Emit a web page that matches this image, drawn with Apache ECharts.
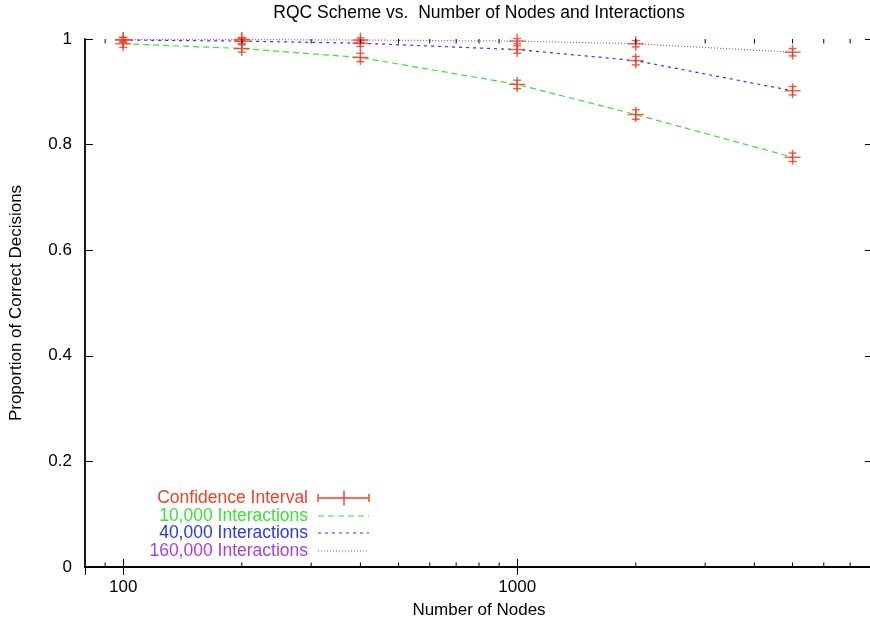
<!DOCTYPE html>
<html><head><meta charset="utf-8">
<script src="https://cdn.jsdelivr.net/npm/echarts@6/dist/echarts.min.js"></script>
<style>html,body{margin:0;padding:0;background:#fff}#c{width:870px;height:625px}</style>
</head><body><div id="c"></div>
<script>
// ---- data ----
const nodes = [100, 200, 400, 1000, 2000, 5000];
const acc10k = [0.991, 0.982, 0.965, 0.914, 0.857, 0.776];
const acc40k = [0.998, 0.996, 0.992, 0.980, 0.959, 0.902];
const acc160k = [0.999, 0.999, 0.998, 0.996, 0.991, 0.975];
const ci10k = [0.007, 0.007, 0.008, 0.008, 0.009, 0.008];
const ci40k = [0.005, 0.005, 0.006, 0.007, 0.008, 0.008];
const ci160k = [0.004, 0.004, 0.004, 0.005, 0.006, 0.007];
const seriesNames = ['10,000 Interactions', '40,000 Interactions', '160,000 Interactions'];
const ciName = 'Confidence Interval';
const minorTickNodes = [90, 200, 300, 400, 500, 600, 700, 800, 900, 2000, 3000, 4000, 5000, 6000, 7000];

const FONT = "'Liberation Sans', Arial, Helvetica, sans-serif";
const RED = '#f0402a', GREEN = '#3fe03a', BLUE = '#2a36f0', PURPLE = '#a63ee8';

const accs = [acc10k, acc40k, acc160k];
const cis = [ci10k, ci40k, ci160k];
const colors = [GREEN, BLUE, PURPLE];
const dashes = [[6, 4], [3, 4], [1, 2]];

const ciData = [];
accs.forEach((a, k) => a.forEach((v, i) => {
  ciData.push([nodes[i], v, v - cis[k][i], v + cis[k][i]]);
}));

const chart = echarts.init(document.getElementById('c'), null, {renderer: 'canvas'});

function errRender(params, api) {
  const x = api.value(0), y = api.value(1), lo = api.value(2), hi = api.value(3);
  const c = api.coord([x, y]);
  const pl = api.coord([x, lo]);
  const ph = api.coord([x, hi]);
  const st = {stroke: RED, lineWidth: 1.4, opacity: 0.85};
  const L = (x1, y1, x2, y2) => ({type: 'line', shape: {x1, y1, x2, y2}, style: st});
  return {type: 'group', children: [
    L(c[0], ph[1], c[0], pl[1]),
    L(c[0] - 4, ph[1], c[0] + 4, ph[1]),
    L(c[0] - 4, pl[1], c[0] + 4, pl[1]),
    L(c[0] - 8, c[1], c[0] + 8, c[1]),
    L(c[0], c[1] - 7.5, c[0], c[1] + 7.5)
  ]};
}

function minorRender(params, api) {
  const b = api.coord([api.value(0), 0]);
  const t = api.coord([api.value(0), 1]);
  const st = {stroke: '#000', lineWidth: 1};
  return {type: 'group', children: [
    {type: 'line', shape: {x1: b[0], y1: b[1], x2: b[0], y2: b[1] - 4.5}, style: st},
    {type: 'line', shape: {x1: t[0], y1: t[1], x2: t[0], y2: t[1] + 4.5}, style: st}
  ]};
}

const axisLine = {show: true, lineStyle: {color: '#000', width: 1.8}};
const tick = {show: true, inside: true, length: 8, lineStyle: {color: '#000', width: 1}};
const labelStyle = {color: '#000', fontSize: 17, fontFamily: FONT};

const legendRows = [
  {name: ciName, color: RED, y: 498},
  {name: seriesNames[0], color: GREEN, y: 516},
  {name: seriesNames[1], color: BLUE, y: 533},
  {name: seriesNames[2], color: PURPLE, y: 551}
];
const graphics = [
  {type: 'text', x: 479, y: 13, style: {text: 'RQC Scheme vs.  Number of Nodes and Interactions', font: '17.5px ' + FONT, fill: '#000', textAlign: 'center', textVerticalAlign: 'middle'}}
];
legendRows.forEach((r, i) => {
  graphics.push({type: 'text', x: 308, y: r.y, style: {text: r.name, font: '17.5px ' + FONT, fill: r.color, textAlign: 'right', textVerticalAlign: 'middle'}});
  if (i === 0) {
    const st = {stroke: RED, lineWidth: 1.4};
    graphics.push({type: 'line', shape: {x1: 318, y1: r.y, x2: 369, y2: r.y}, style: st});
    graphics.push({type: 'line', shape: {x1: 318, y1: r.y - 4, x2: 318, y2: r.y + 4}, style: st});
    graphics.push({type: 'line', shape: {x1: 369, y1: r.y - 4, x2: 369, y2: r.y + 4}, style: st});
    graphics.push({type: 'line', shape: {x1: 344, y1: r.y - 7.5, x2: 344, y2: r.y + 7.5}, style: st});
  } else {
    graphics.push({type: 'line', shape: {x1: 318, y1: r.y, x2: 369, y2: r.y}, style: {stroke: r.color, lineWidth: 1.2, lineDash: dashes[i - 1]}});
  }
});

const option = {
  backgroundColor: '#fff',
  animation: false,
  grid: {left: 85, top: 39, right: -3, bottom: 58, containLabel: false, outerBoundsMode: 'none'},
  xAxis: [
    {type: 'log', logBase: 10, min: 80, max: 8000, position: 'bottom',
     name: 'Number of Nodes', nameLocation: 'middle', nameGap: 35,
     nameTextStyle: {color: '#000', fontSize: 17, fontFamily: FONT},
     axisLine, axisTick: tick, splitLine: {show: false}, minorTick: {show: false},
     axisLabel: Object.assign({margin: 12, showMinLabel: false, showMaxLabel: false,
       formatter: v => String(Math.round(v))}, labelStyle)},
    {type: 'log', logBase: 10, min: 80, max: 8000, position: 'top',
     axisLine, axisTick: tick, splitLine: {show: false}, axisLabel: {show: false}}
  ],
  yAxis: [
    {type: 'value', min: 0, max: 1, interval: 0.2, position: 'left',
     name: 'Proportion of Correct Decisions', nameLocation: 'middle', nameGap: 60,
     nameTextStyle: {color: '#000', fontSize: 17, fontFamily: FONT},
     axisLine, axisTick: tick, splitLine: {show: false},
     axisLabel: Object.assign({margin: 13}, labelStyle)},
    {type: 'value', min: 0, max: 1, interval: 0.2, position: 'right',
     axisLine, axisTick: tick, splitLine: {show: false}, axisLabel: {show: false}}
  ],
  series: [
    ...accs.map((a, k) => ({
      type: 'line', name: seriesNames[k], data: nodes.map((n, i) => [n, a[i]]),
      symbol: 'none', lineStyle: {color: colors[k], width: 1.2, type: dashes[k]},
      z: 2
    })),
    {type: 'custom', name: ciName, data: ciData, renderItem: errRender, clip: false, z: 3,
     encode: {x: 0, y: 1}},
    {type: 'custom', name: 'minor', data: minorTickNodes.map(v => [v, 0]), renderItem: minorRender,
     clip: false, silent: true, z: 4, encode: {x: 0, y: 1}}
  ],
  graphic: graphics
};
chart.setOption(option);
</script></body></html>
